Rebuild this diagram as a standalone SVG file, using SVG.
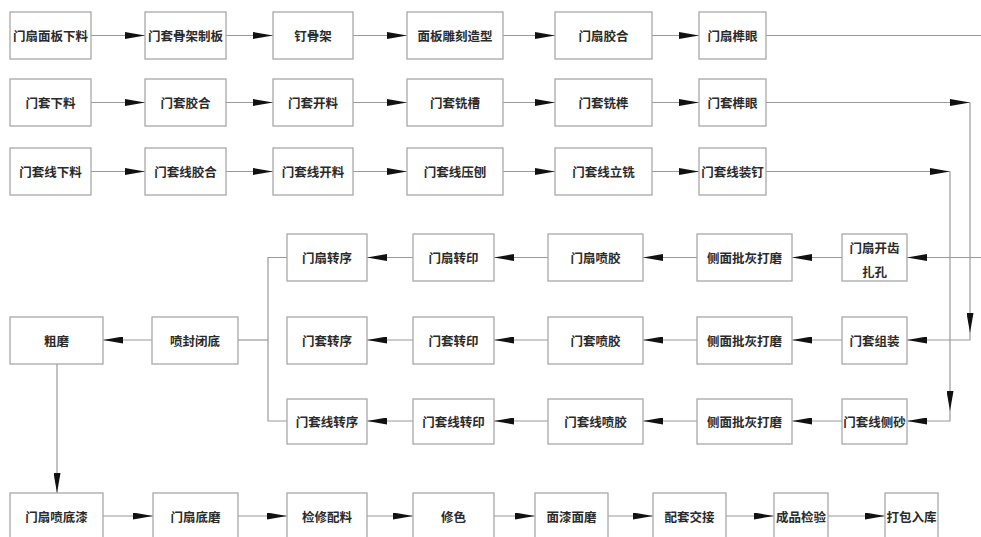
<svg xmlns="http://www.w3.org/2000/svg" width="981" height="537" viewBox="0 0 981 537">
<style>
.box rect{fill:#fff;stroke:#a8a8a8;stroke-width:1.3}
.box text{font-family:"Noto Sans CJK SC","Noto Sans CJK TC",sans-serif;font-size:12.5px;font-weight:bold;fill:#2a2a2a;text-anchor:middle;dominant-baseline:central}
#connectors path{fill:none;stroke:#9a9a9a;stroke-width:1.2}
#connectors path.a{marker-end:url(#ah)}
</style>
<defs>
<marker id="ah" markerUnits="userSpaceOnUse" markerWidth="20" markerHeight="7" refX="20" refY="3.5" orient="auto" viewBox="0 0 20 7">
<path d="M0,0 L20,3.5 L0,7 z" fill="#111"/>
</marker>
</defs>
<rect width="981" height="537" fill="#fff"/>
<g id="connectors">
<path class="a" d="M91,35.5 H145"/>
<path class="a" d="M226,35.5 H273"/>
<path class="a" d="M353,35.5 H407"/>
<path class="a" d="M503,35.5 H555"/>
<path class="a" d="M652,35.5 H699"/>
<path d="M766,35.5 H981"/>
<path class="a" d="M91,102.5 H145"/>
<path class="a" d="M226,102.5 H273"/>
<path class="a" d="M353,102.5 H407"/>
<path class="a" d="M503,102.5 H555"/>
<path class="a" d="M652,102.5 H699"/>
<path class="a" d="M766,102.5 H970"/>
<path class="a" d="M970,102.5 V333"/>
<path class="a" d="M970,333 V340 H907"/>
<path class="a" d="M91,171.5 H145"/>
<path class="a" d="M226,171.5 H273"/>
<path class="a" d="M353,171.5 H407"/>
<path class="a" d="M503,171.5 H555"/>
<path class="a" d="M652,171.5 H699"/>
<path class="a" d="M766,171.5 H950"/>
<path class="a" d="M950,171.5 V411"/>
<path class="a" d="M950,411 V421 H907"/>
<path class="a" d="M981,257.5 H907"/>
<path class="a" d="M842,257.5 H792"/>
<path class="a" d="M697,257.5 H643"/>
<path class="a" d="M548,257.5 H494"/>
<path class="a" d="M413,257.5 H367"/>
<path class="a" d="M842,340 H792"/>
<path class="a" d="M697,340 H643"/>
<path class="a" d="M548,340 H494"/>
<path class="a" d="M413,340 H367"/>
<path class="a" d="M152,340 H103"/>
<path d="M238,340 H268"/>
<path d="M287,257.5 H268 V421 H287"/>
<path class="a" d="M842,421 H792"/>
<path class="a" d="M697,421 H643"/>
<path class="a" d="M548,421 H494"/>
<path class="a" d="M413,421 H367"/>
<path class="a" d="M57,364 V493"/>
<path class="a" d="M103,516 H153"/>
<path class="a" d="M238,516 H287"/>
<path class="a" d="M367,516 H413"/>
<path class="a" d="M494,516 H535"/>
<path class="a" d="M608,516 H653"/>
<path class="a" d="M726,516 H774"/>
<path class="a" d="M828,516 H885"/>
</g>
<g id="n1" class="box"><rect x="10" y="12" width="81" height="47"/><text x="50.5" y="35.5">门扇面板下料</text></g>
<g id="n2" class="box"><rect x="145" y="12" width="81" height="47"/><text x="185.5" y="35.5">门套骨架制板</text></g>
<g id="n3" class="box"><rect x="273" y="12" width="80" height="47"/><text x="313" y="35.5">钉骨架</text></g>
<g id="n4" class="box"><rect x="407" y="12" width="96" height="47"/><text x="455" y="35.5">面板雕刻造型</text></g>
<g id="n5" class="box"><rect x="555" y="12" width="97" height="47"/><text x="603.5" y="35.5">门扇胶合</text></g>
<g id="n6" class="box"><rect x="699" y="12" width="67" height="47"/><text x="732.5" y="35.5">门扇榫眼</text></g>
<g id="n7" class="box"><rect x="10" y="79" width="81" height="47"/><text x="50.5" y="102.5">门套下料</text></g>
<g id="n8" class="box"><rect x="145" y="79" width="81" height="47"/><text x="185.5" y="102.5">门套胶合</text></g>
<g id="n9" class="box"><rect x="273" y="79" width="80" height="47"/><text x="313" y="102.5">门套开料</text></g>
<g id="n10" class="box"><rect x="407" y="79" width="96" height="47"/><text x="455" y="102.5">门套铣槽</text></g>
<g id="n11" class="box"><rect x="555" y="79" width="97" height="47"/><text x="603.5" y="102.5">门套铣榫</text></g>
<g id="n12" class="box"><rect x="699" y="79" width="67" height="47"/><text x="732.5" y="102.5">门套榫眼</text></g>
<g id="n13" class="box"><rect x="10" y="148" width="81" height="47"/><text x="50.5" y="171.5">门套线下料</text></g>
<g id="n14" class="box"><rect x="145" y="148" width="81" height="47"/><text x="185.5" y="171.5">门套线胶合</text></g>
<g id="n15" class="box"><rect x="273" y="148" width="80" height="47"/><text x="313" y="171.5">门套线开料</text></g>
<g id="n16" class="box"><rect x="407" y="148" width="96" height="47"/><text x="455" y="171.5">门套线压刨</text></g>
<g id="n17" class="box"><rect x="555" y="148" width="97" height="47"/><text x="603.5" y="171.5">门套线立铣</text></g>
<g id="n18" class="box"><rect x="699" y="148" width="67" height="47"/><text x="732.5" y="171.5">门套线装钉</text></g>
<g id="n19" class="box"><rect x="287" y="234" width="80" height="47"/><text x="327" y="257.5">门扇转序</text></g>
<g id="n20" class="box"><rect x="413" y="234" width="81" height="47"/><text x="453.5" y="257.5">门扇转印</text></g>
<g id="n21" class="box"><rect x="548" y="234" width="95" height="47"/><text x="595.5" y="257.5">门扇喷胶</text></g>
<g id="n22" class="box"><rect x="697" y="234" width="95" height="47"/><text x="744.5" y="257.5">侧面批灰打磨</text></g>
<g id="n23" class="box"><rect x="842" y="234" width="65" height="47"/><text x="874.5" y="247">门扇开齿</text><text x="874.5" y="271">扎孔</text></g>
<g id="n24" class="box"><rect x="10" y="317" width="93" height="47"/><text x="56.5" y="340.5">粗磨</text></g>
<g id="n25" class="box"><rect x="152" y="317" width="86" height="47"/><text x="195" y="340.5">喷封闭底</text></g>
<g id="n26" class="box"><rect x="287" y="317" width="80" height="47"/><text x="327" y="340.5">门套转序</text></g>
<g id="n27" class="box"><rect x="413" y="317" width="81" height="47"/><text x="453.5" y="340.5">门套转印</text></g>
<g id="n28" class="box"><rect x="548" y="317" width="95" height="47"/><text x="595.5" y="340.5">门套喷胶</text></g>
<g id="n29" class="box"><rect x="697" y="317" width="95" height="47"/><text x="744.5" y="340.5">侧面批灰打磨</text></g>
<g id="n30" class="box"><rect x="842" y="317" width="65" height="47"/><text x="874.5" y="340.5">门套组装</text></g>
<g id="n31" class="box"><rect x="287" y="399" width="80" height="45"/><text x="327" y="421.5">门套线转序</text></g>
<g id="n32" class="box"><rect x="413" y="399" width="81" height="45"/><text x="453.5" y="421.5">门套线转印</text></g>
<g id="n33" class="box"><rect x="548" y="399" width="95" height="45"/><text x="595.5" y="421.5">门套线喷胶</text></g>
<g id="n34" class="box"><rect x="697" y="399" width="95" height="45"/><text x="744.5" y="421.5">侧面批灰打磨</text></g>
<g id="n35" class="box"><rect x="842" y="399" width="65" height="45"/><text x="874.5" y="421.5">门套线侧砂</text></g>
<g id="n36" class="box"><rect x="10" y="493" width="93" height="50"/><text x="56.5" y="516">门扇喷底漆</text></g>
<g id="n37" class="box"><rect x="153" y="493" width="85" height="50"/><text x="195.5" y="516">门扇底磨</text></g>
<g id="n38" class="box"><rect x="287" y="493" width="80" height="50"/><text x="327" y="516">检修配料</text></g>
<g id="n39" class="box"><rect x="413" y="493" width="81" height="50"/><text x="453.5" y="516">修色</text></g>
<g id="n40" class="box"><rect x="535" y="493" width="73" height="50"/><text x="571.5" y="516">面漆面磨</text></g>
<g id="n41" class="box"><rect x="653" y="493" width="73" height="50"/><text x="689.5" y="516">配套交接</text></g>
<g id="n42" class="box"><rect x="774" y="493" width="54" height="50"/><text x="801" y="516">成品检验</text></g>
<g id="n43" class="box"><rect x="885" y="493" width="53" height="50"/><text x="911.5" y="516">打包入库</text></g>
</svg>
